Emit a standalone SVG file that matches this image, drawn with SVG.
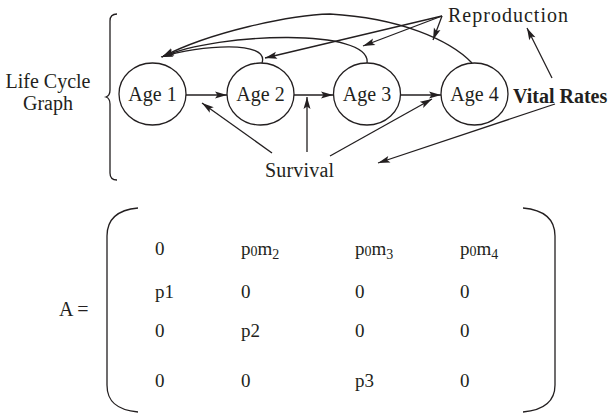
<svg xmlns="http://www.w3.org/2000/svg" width="615" height="414" viewBox="0 0 615 414">
  <style>
    text { font-family: "Liberation Serif", "DejaVu Serif", serif; fill: #231f20; }
    .lbl { font-size: 20px; }
    .node-label { font-size: 20px; text-anchor: middle; }
    .bold { font-weight: bold; }
    .cell { font-size: 19px; }
    .sub { font-size: 14px; }
    .node { fill: #ffffff; stroke: #231f20; stroke-width: 1.3; }
    .edge { fill: none; stroke: #231f20; stroke-width: 1.3; marker-end: url(#arrow); }
    .plain { fill: none; stroke: #231f20; stroke-width: 1.3; }
  </style>
  <defs>
    <marker id="arrow" markerUnits="userSpaceOnUse" markerWidth="14" markerHeight="8" refX="12" refY="3.5" orient="auto" overflow="visible">
      <path d="M0,0 L12,3.5 L0,7 L2.5,3.5 Z" fill="#231f20"/>
    </marker>
  </defs>

  <rect width="615" height="414" fill="#ffffff"/>

  <!-- Life cycle graph label and brace -->
  <g id="graph-label">
    <text class="lbl" x="48" y="88" text-anchor="middle">Life Cycle</text>
    <text class="lbl" x="48" y="110" text-anchor="middle">Graph</text>
    <path class="plain" d="M117,14 C112,14 110,16 110,21 L110,90 C110,94 109,96 106,97 C109,98 110,100 110,104 L110,173 C110,178 112,180 117,180"/>
  </g>

  <!-- Connectors -->
  <g id="connectors">
    <!-- survival transitions -->
    <line class="edge" x1="186" y1="95" x2="227" y2="95"/>
    <line class="edge" x1="294" y1="95" x2="333" y2="95"/>
    <line class="edge" x1="401" y1="95" x2="441" y2="95"/>
    <!-- reproduction arcs back to Age 1 -->
    <path class="edge" d="M262,63 C270,40 200,45 161,57"/>
    <path class="edge" d="M367,63 C372,28 220,32 162,57"/>
    <path class="edge" d="M472,63 C450,40 400,18 330,14 C290,15 210,32 162,57"/>
    <!-- annotation arrows: Reproduction -->
    <line class="edge" x1="442" y1="16" x2="265" y2="58"/>
    <line class="edge" x1="442" y1="16" x2="363" y2="46"/>
    <line class="edge" x1="442" y1="16" x2="433" y2="40"/>
    <!-- annotation arrows: Survival -->
    <line class="edge" x1="272" y1="153" x2="202" y2="103"/>
    <line class="edge" x1="307" y1="152" x2="307" y2="97"/>
    <line class="edge" x1="330" y1="156" x2="432" y2="99"/>
    <!-- annotation arrows: Vital Rates -->
    <line class="edge" x1="552" y1="78" x2="527" y2="28"/>
    <line class="edge" x1="555" y1="104" x2="378" y2="163"/>
  </g>

  <!-- Age classes -->
  <g id="age1">
    <ellipse class="node" cx="152.5" cy="94" rx="33.5" ry="31"/>
    <text class="node-label" x="152.5" y="101">Age 1</text>
  </g>
  <g id="age2">
    <ellipse class="node" cx="260.5" cy="94" rx="33.5" ry="31"/>
    <text class="node-label" x="260.5" y="101">Age 2</text>
  </g>
  <g id="age3">
    <ellipse class="node" cx="367" cy="94" rx="33.5" ry="31"/>
    <text class="node-label" x="367" y="101">Age 3</text>
  </g>
  <g id="age4">
    <ellipse class="node" cx="474.5" cy="94" rx="33.5" ry="31"/>
    <text class="node-label" x="474.5" y="101">Age 4</text>
  </g>

  <!-- Annotation labels -->
  <g id="reproduction">
    <text class="lbl" x="448" y="22" textLength="120" lengthAdjust="spacing">Reproduction</text>
  </g>
  <g id="survival">
    <text class="lbl" x="265" y="177" textLength="69" lengthAdjust="spacing">Survival</text>
  </g>
  <g id="vital-rates">
    <text class="lbl bold" x="513" y="103">Vital Rates</text>
  </g>

  <!-- Leslie matrix -->
  <g id="matrix">
    <text class="lbl" x="59" y="316">A =</text>
    <path class="plain" d="M138,208 C116,210 107,220 107,236 L107,385 C107,401 116,410 138,412"/>
    <path class="plain" d="M523,208 C545,210 555,220 555,236 L555,385 C555,401 545,410 523,412"/>

    <text class="cell" x="155" y="255">0</text>
    <text class="cell" x="241" y="255">p<tspan class="sub" dy="1">0</tspan><tspan dy="-1">m</tspan><tspan class="sub" dy="4">2</tspan></text>
    <text class="cell" x="355" y="255">p<tspan class="sub" dy="1">0</tspan><tspan dy="-1">m</tspan><tspan class="sub" dy="4">3</tspan></text>
    <text class="cell" x="460" y="255">p<tspan class="sub" dy="1">0</tspan><tspan dy="-1">m</tspan><tspan class="sub" dy="4">4</tspan></text>

    <text class="cell" x="155" y="298">p1</text>
    <text class="cell" x="241" y="298">0</text>
    <text class="cell" x="355" y="298">0</text>
    <text class="cell" x="460" y="298">0</text>

    <text class="cell" x="155" y="337">0</text>
    <text class="cell" x="241" y="337">p2</text>
    <text class="cell" x="355" y="337">0</text>
    <text class="cell" x="460" y="337">0</text>

    <text class="cell" x="155" y="387">0</text>
    <text class="cell" x="241" y="387">0</text>
    <text class="cell" x="355" y="387">p3</text>
    <text class="cell" x="460" y="387">0</text>
  </g>
</svg>
